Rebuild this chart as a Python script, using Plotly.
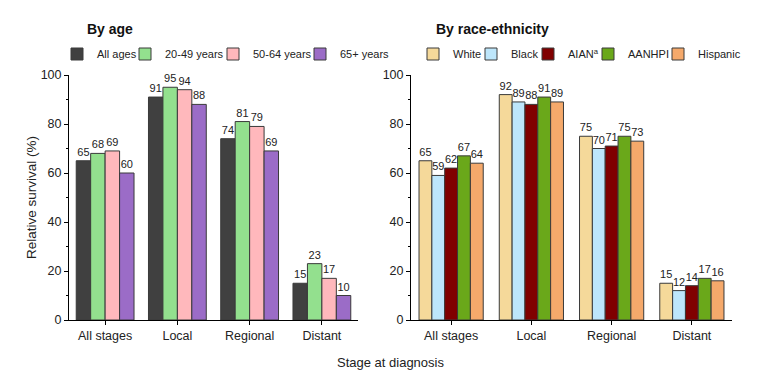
import plotly.graph_objects as go

W, H = 762, 379

stages = ["All stages", "Local", "Regional", "Distant"]

age_groups = ["All ages", "20-49 years", "50-64 years", "65+ years"]
age_all = [65, 91, 74, 15]
age_20_49 = [68, 95, 81, 23]
age_50_64 = [69, 94, 79, 17]
age_65p = [60, 88, 69, 10]
age_values = [age_all, age_20_49, age_50_64, age_65p]
age_colors = ["#404040", "#93e08e", "#ffb8bc", "#9b6cc7"]

race_groups = ["White", "Black", "AIAN<sup>a</sup>", "AANHPI", "Hispanic"]
race_white = [65, 92, 75, 15]
race_black = [59, 89, 70, 12]
race_aian = [62, 88, 71, 14]
race_aanhpi = [67, 91, 75, 17]
race_hispanic = [64, 89, 73, 16]
race_values = [race_white, race_black, race_aian, race_aanhpi, race_hispanic]
race_colors = ["#f5d99a", "#bde6fb", "#800000", "#6aa81a", "#f5a96b"]

# legend entry text start positions (pixels from left), layout only
age_legend_px = [95, 163, 251, 338]
race_legend_px = [451, 509, 566, 626, 696]

FONT = "Liberation Sans, Arial, sans-serif"


def px_x(p):
    return p / W


def px_y(p):
    return 1 - p / H


fig = go.Figure()
legend_layout = {}
k = 0
for names, values, colors, xa, ya, lpx in [
    (age_groups, age_values, age_colors, "x", "y", age_legend_px),
    (race_groups, race_values, race_colors, "x2", "y2", race_legend_px),
]:
    for name, vals, col, lx in zip(names, values, colors, lpx):
        k += 1
        lid = "legend" if k == 1 else f"legend{k}"
        fig.add_trace(go.Bar(
            x=stages, y=vals, name=name, showlegend=True,
            marker=dict(color=col, line=dict(color="#3a3a3a", width=1)),
            text=[str(v) for v in vals], textposition="outside", constraintext="none",
            textfont=dict(size=11, color="#222222", family=FONT), cliponaxis=False,
            xaxis=xa, yaxis=ya, legend=lid,
        ))
        legend_layout[lid] = dict(
            orientation="h", x=px_x(lx - 38), y=px_y(54), xanchor="left", yanchor="middle",
            font=dict(size=11, family=FONT, color="#222222"), bgcolor="rgba(0,0,0,0)",
            itemwidth=30, borderwidth=0,
        )

ydom = [px_y(320), px_y(75)]

axis_common = dict(showline=True, linecolor="black", linewidth=1, ticks="outside",
                   ticklen=4, tickcolor="black", showgrid=False, zeroline=False,
                   tickfont=dict(size=12.5, color="#222222", family=FONT))

fig.update_layout(
    width=W, height=H, showlegend=True,
    margin=dict(l=0, r=0, t=0, b=0, autoexpand=False),
    paper_bgcolor="white", plot_bgcolor="white",
    font=dict(family=FONT, color="#222222"),
    barmode="group", bargap=0.2, bargroupgap=0,
    xaxis=dict(domain=[px_x(69), px_x(358)], anchor="y", **axis_common),
    yaxis=dict(domain=ydom, range=[0, 100], dtick=20, anchor="x",
               minor=dict(ticks="outside", dtick=10, ticklen=2, tickcolor="black"), **axis_common),
    xaxis2=dict(domain=[px_x(411), px_x(732)], anchor="y2", **axis_common),
    yaxis2=dict(domain=ydom, range=[0, 100], dtick=20, anchor="x2",
                minor=dict(ticks="outside", dtick=10, ticklen=2, tickcolor="black"), **axis_common),
    annotations=[
        dict(text="<b>By age</b>", x=px_x(85), y=px_y(29), xref="paper", yref="paper",
             xanchor="left", yanchor="middle", showarrow=False,
             font=dict(size=14, family=FONT, color="#111111")),
        dict(text="<b>By race-ethnicity</b>", x=px_x(434), y=px_y(29), xref="paper", yref="paper",
             xanchor="left", yanchor="middle", showarrow=False,
             font=dict(size=14, family=FONT, color="#111111")),
        dict(text="Relative survival (%)", x=px_x(31), y=px_y(198), xref="paper", yref="paper",
             xanchor="center", yanchor="middle", textangle=-90, showarrow=False,
             font=dict(size=13.5, family=FONT, color="#222222")),
        dict(text="Stage at diagnosis", x=px_x(390), y=px_y(362), xref="paper", yref="paper",
             xanchor="center", yanchor="middle", showarrow=False,
             font=dict(size=13, family=FONT, color="#222222")),
    ],
    **legend_layout,
)

fig.write_html(
    "out.html",
    config={"displayModeBar": False},
    post_script="document.body.style.margin='0';document.body.style.padding='0';document.body.style.overflow='hidden';",
)
